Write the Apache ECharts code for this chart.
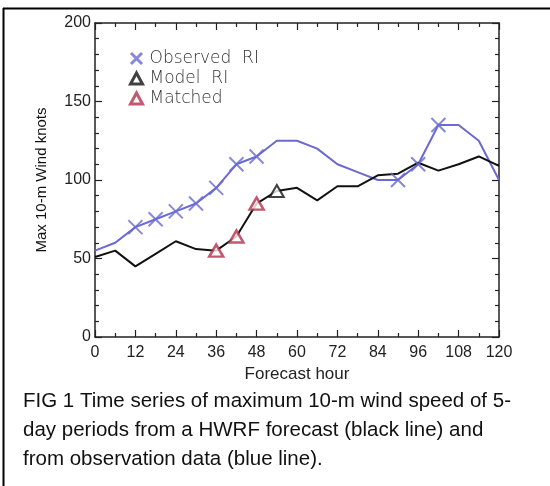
<!DOCTYPE html>
<html>
<head>
<meta charset="utf-8">
<script src="https://cdn.jsdelivr.net/npm/echarts@6/dist/echarts.min.js"></script>
<style>
  html, body { margin: 0; padding: 0; background: #fff; }
  #chart { width: 550px; height: 486px; }
</style>
</head>
<body>
<div id="chart"></div>
<script>
// forecast hours, every 6 h
var hours = [0, 6, 12, 18, 24, 30, 36, 42, 48, 54, 60, 66, 72, 78, 84, 90, 96, 102, 108, 114, 120];
// observed max wind (blue)
var observed = [55, 60, 70, 75, 80, 85, 95, 110, 115, 125, 125, 120, 110, 105, 100, 100, 110, 135, 135, 125, 100];
// HWRF forecast max wind (black)
var model = [51, 55, 45, 53, 61, 56, 55, 64, 85, 93, 95, 87, 96, 96, 103, 104, 111, 106, 110, 115, 109];

// hours flagged as RI
var observedRIHours = [12, 18, 24, 30, 36, 42, 48, 90, 96, 102];
var modelRIHours = [54];
var matchedHours = [36, 42, 48];

var xTicks = [0, 12, 24, 36, 48, 60, 72, 84, 96, 108, 120];
var yTicks = [0, 50, 100, 150, 200];

var blue = '#6a6ad2';
var red = '#b3304c';

function pairs(xs, ys) {
  return xs.map(function (h, i) { return [h, ys[i]]; });
}
function pick(hs, ys) {
  return hs.map(function (h) { return [h, ys[hours.indexOf(h)]]; });
}

var chart = echarts.init(document.getElementById('chart'), null, { renderer: 'canvas' });

// frame axes: ticks pointing into the plot
function frameAxis(extra, minorSplit) {
  return Object.assign({
    type: 'value',
    axisLine: { show: true, onZero: false, lineStyle: { color: '#222', width: 1.5 } },
    axisTick: { show: true, inside: true, length: 7, lineStyle: { color: '#222', width: 1.2 } },
    minorTick: { show: true, splitNumber: minorSplit, length: 4, lineStyle: { color: '#222', width: 1.2 } },
    splitLine: { show: false }
  }, extra);
}

var labelFont = { fontFamily: 'Liberation Sans', fontSize: 16, color: '#222' };

var option = {
  animation: false,
  grid: { left: 95, right: 51, top: 23, bottom: 149 },
  legend: {
    orient: 'vertical',
    left: 124,
    top: 45,
    itemWidth: 12,
    itemHeight: 11,
    itemGap: 3,
    data: [
      { name: 'Observed RI', itemStyle: { borderWidth: 3 } },
      { name: 'Model RI', itemStyle: { borderWidth: 3 } },
      { name: 'Matched', itemStyle: { borderWidth: 3 } }
    ],
    formatter: function (n) { return n.replace(' ', '  '); },
    textStyle: { fontFamily: 'DejaVu Sans', fontWeight: 200, fontSize: 17, color: '#333', padding: [0, 0, 0, 2] }
  },
  xAxis: [
    frameAxis({
      min: 0, max: 120, interval: 12, position: 'bottom',
      name: 'Forecast hour', nameLocation: 'middle', nameGap: 20,
      nameTextStyle: { fontFamily: 'Liberation Sans', fontSize: 17, color: '#222' },
      axisLabel: Object.assign({ margin: 8,
        formatter: function (v) { return xTicks.indexOf(v) >= 0 ? v : ''; } }, labelFont)
    }, 2),
    frameAxis({
      min: 0, max: 120, interval: 12, position: 'top',
      axisLabel: { show: false }
    }, 2)
  ],
  yAxis: [
    frameAxis({
      min: 0, max: 200, interval: 50, position: 'left',
      name: 'Max 10-m Wind knots', nameLocation: 'middle', nameGap: 46,
      nameTextStyle: { fontFamily: 'Liberation Sans', fontSize: 15, color: '#111' },
      axisLabel: Object.assign({ margin: 4,
        formatter: function (v) { return yTicks.indexOf(v) >= 0 ? v : ''; } }, labelFont)
    }, 5),
    frameAxis({
      min: 0, max: 200, interval: 50, position: 'right',
      axisLabel: { show: false }
    }, 5)
  ],
  series: [
    {
      name: 'observed', type: 'line', data: pairs(hours, observed),
      showSymbol: false, symbol: 'none',
      lineStyle: { color: blue, width: 2 }, z: 2
    },
    {
      name: 'model', type: 'line', data: pairs(hours, model),
      showSymbol: false, symbol: 'none',
      lineStyle: { color: '#111', width: 2 }, z: 2
    },
    {
      name: 'Observed RI', type: 'scatter', data: pick(observedRIHours, observed),
      symbol: 'path://M0,0L10,10M0,10L10,0', symbolSize: 14,
      itemStyle: { color: 'rgba(0,0,0,0)', borderColor: blue, borderWidth: 2 }, z: 3
    },
    {
      name: 'Model RI', type: 'scatter', data: pick(modelRIHours, model),
      symbol: 'triangle', symbolSize: [14, 12],
      itemStyle: { color: '#fff', borderColor: '#111', borderWidth: 2 }, z: 3
    },
    {
      name: 'Matched', type: 'scatter', data: pick(matchedHours, model),
      symbol: 'triangle', symbolSize: [14, 12],
      itemStyle: { color: '#fff', borderColor: red, borderWidth: 2.5 }, z: 3
    }
  ],
  graphic: [
    { type: 'line', shape: { x1: 3, y1: 8.5, x2: 550, y2: 8.5 }, style: { stroke: '#000', lineWidth: 2 } },
    { type: 'line', shape: { x1: 3.5, y1: 8, x2: 3.5, y2: 486 }, style: { stroke: '#000', lineWidth: 2 } },
    { type: 'text', left: 23, top: 391, style: { text: 'FIG 1 Time series of maximum 10-m wind speed of 5-', font: '20.5px "Liberation Sans"', fill: '#111' } },
    { type: 'text', left: 23, top: 420, style: { text: 'day periods from a HWRF forecast (black line) and', font: '20.5px "Liberation Sans"', fill: '#111' } },
    { type: 'text', left: 23, top: 449, style: { text: 'from observation data (blue line).', font: '20.5px "Liberation Sans"', fill: '#111' } }
  ]
};

chart.setOption(option);
</script>
</body>
</html>
